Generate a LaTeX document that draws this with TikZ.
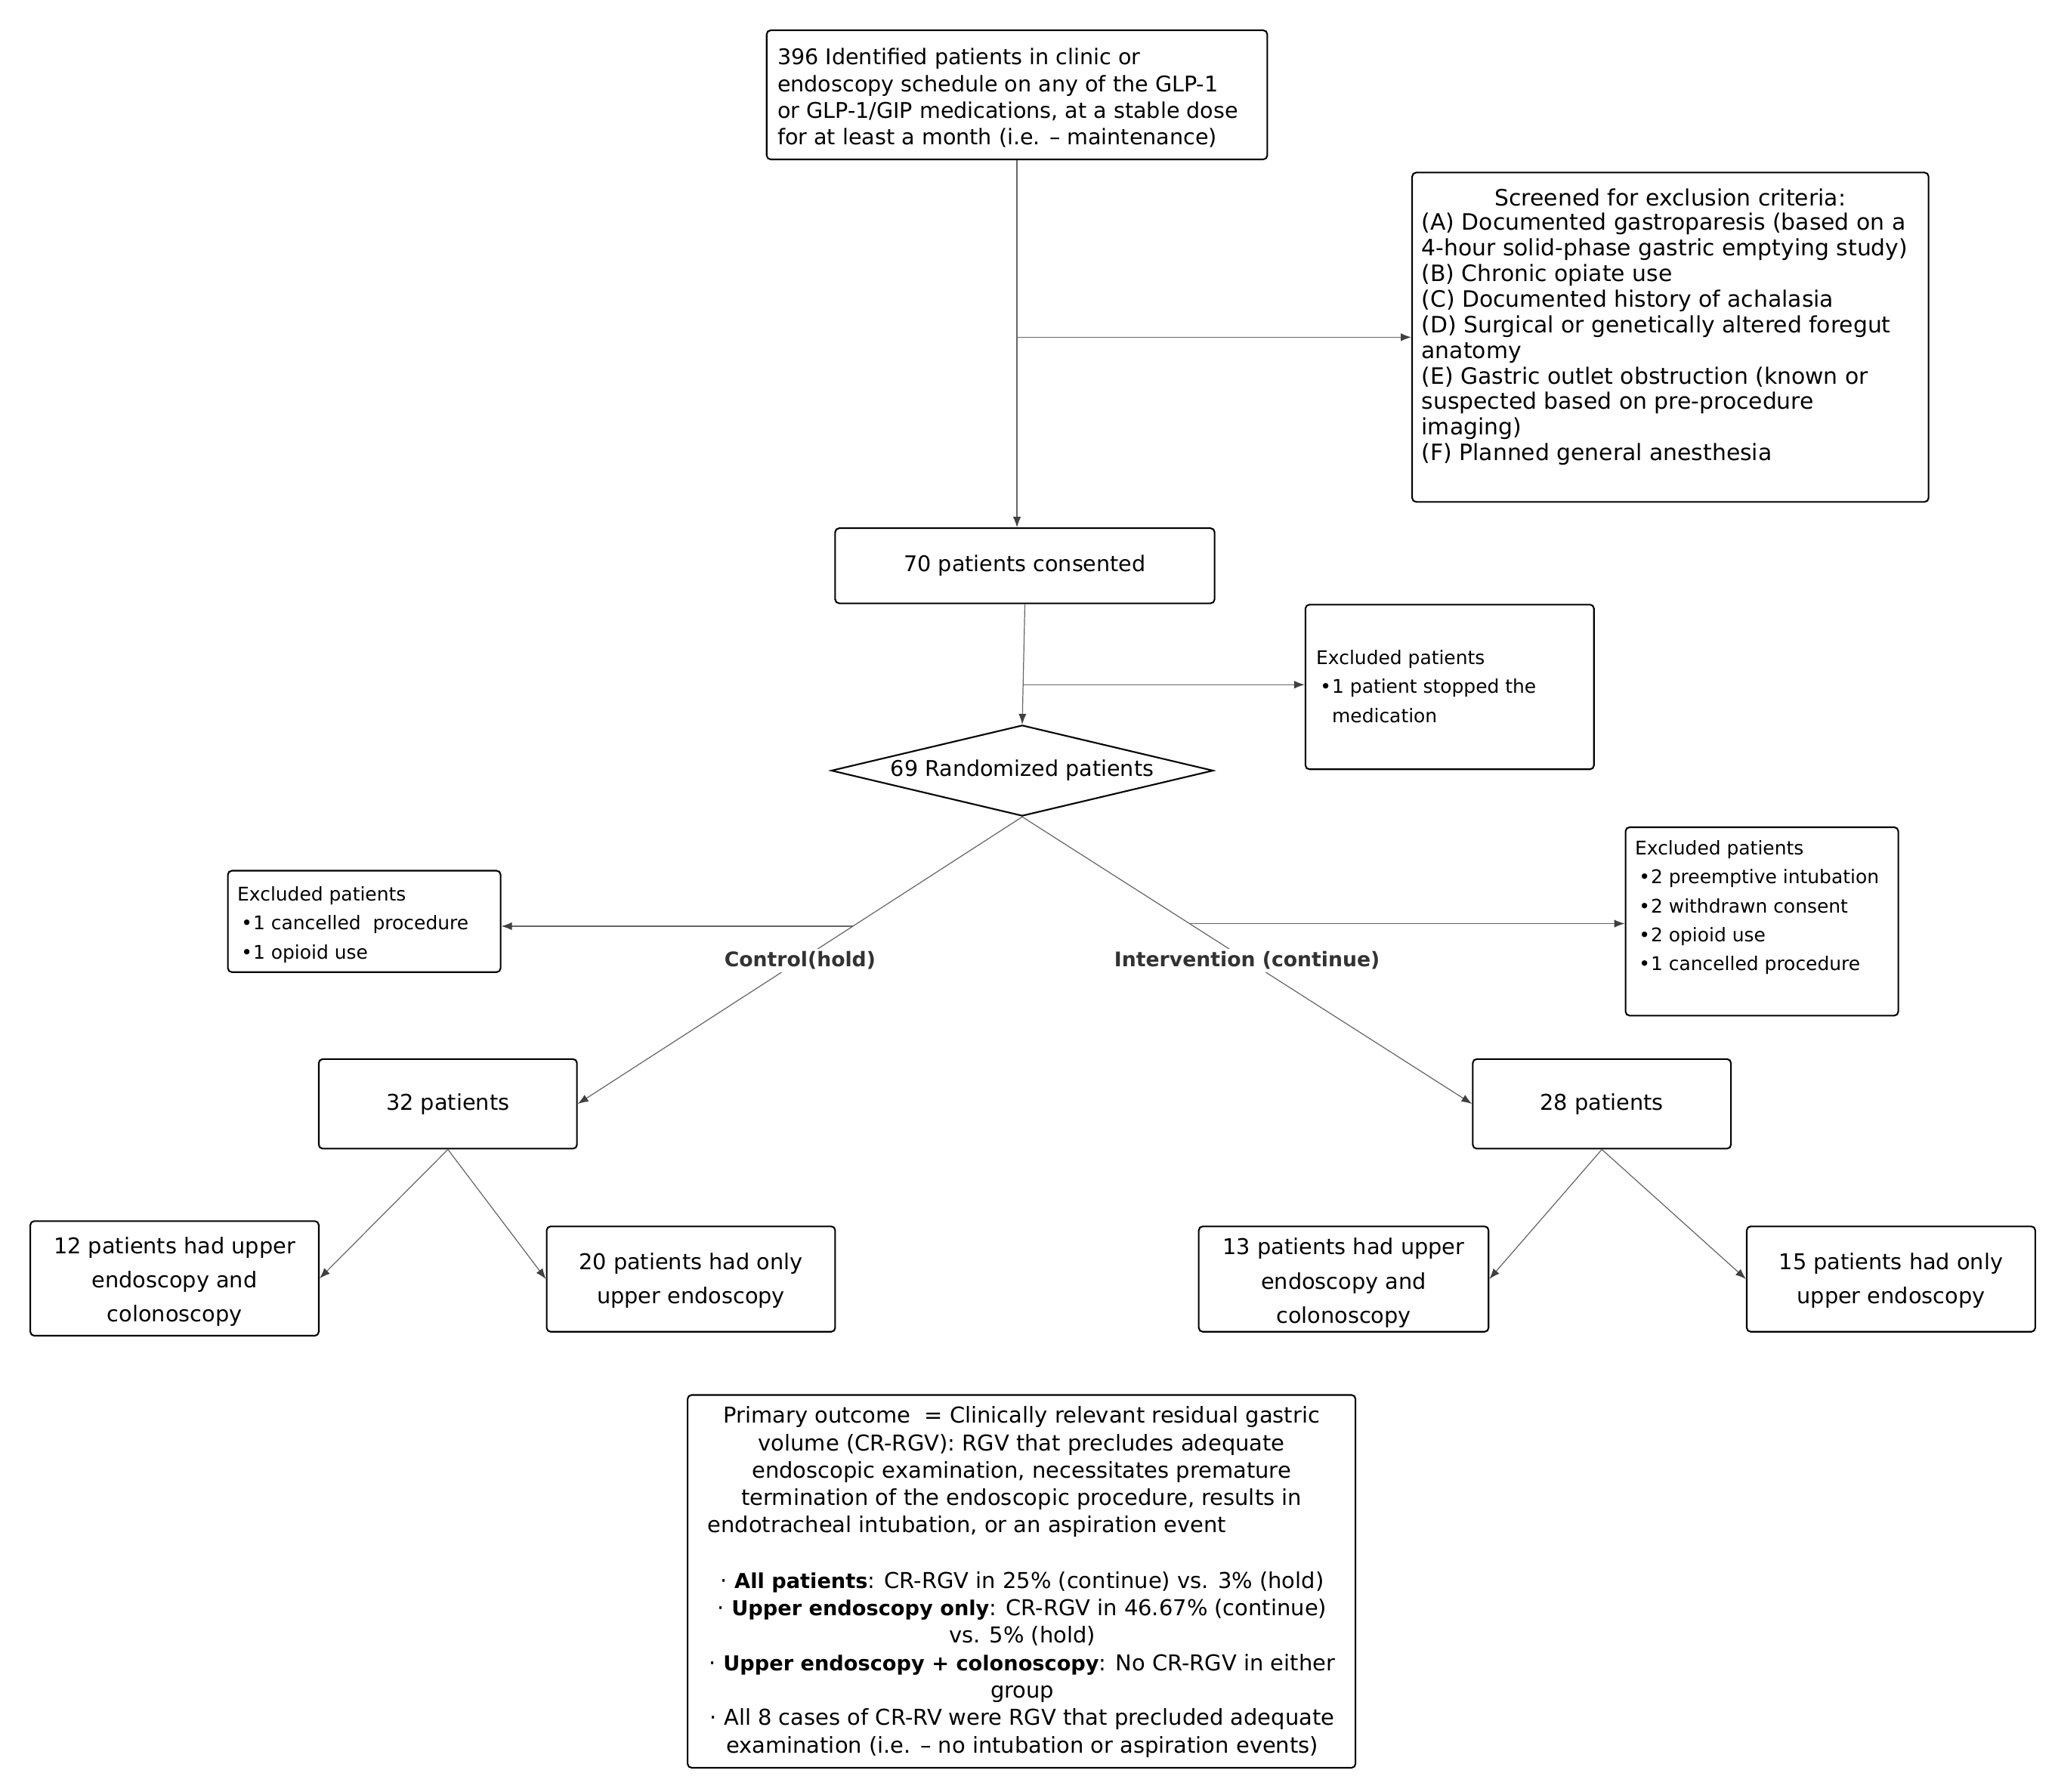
\documentclass[tikz,border=0pt]{standalone}
\usepackage{fontspec}
\setmainfont{DejaVu Sans}
\usetikzlibrary{arrows.meta,shapes.geometric}
\newcommand{\mybul}{\makebox[12pt][l]{\hspace*{3pt}•}}
\newcommand{\mysb}[1]{{\bfseries\fontsize{15.6}{20.83}\selectfont #1}}
\begin{document}
\begin{tikzpicture}[x=1pt,y=-1pt,
  box/.style={draw=black, line width=1.2pt, rounded corners=3pt, inner sep=0pt},
  mtxt/.style={inner sep=0pt, align=left, font=\fontsize{16.4}{20.3}\selectfont},
  ctxt/.style={inner sep=0pt, align=center, font=\fontsize{16.5}{26}\selectfont},
  stxt/.style={inner sep=0pt, align=left, font=\fontsize{14.3}{22}\selectfont},
  otxt/.style={inner sep=0pt, align=center, font=\fontsize{16.6}{20.83}\selectfont},
  lab/.style={fill=white, inner sep=2pt, text=black!80, font=\bfseries\fontsize{15.3}{18}\selectfont},
  conn/.style={draw=black!60, line width=0.7pt},
  arr/.style={conn, -{Latex[length=8pt,width=6pt,color=black!75]}},
]
\fill[white] (0,0) rectangle (1560,1360);
\useasboundingbox (0,0) rectangle (1560,1360);

% top box
\node[box, minimum width=380pt, minimum height=98pt] (top) at (772,72) {};
\node[mtxt, anchor=west] (toptxt) at (590,74.5) {396 Identified patients in clinic or\\endoscopy schedule on any of the GLP-1\\or GLP-1/GIP medications, at a stable dose\\for at least a month (i.e. – maintenance)};

% screening box
\node[box, minimum width=392pt, minimum height=250pt] (screen) at (1268,256) {};
\node[inner sep=0pt, font=\fontsize{17.1}{19.45}\selectfont] (stitle) at (1268,150) {Screened for exclusion criteria:};
\node[inner sep=0pt, align=left, font=\fontsize{17.1}{19.45}\selectfont, anchor=west] (slist) at (1079,257.5) {(A) Documented gastroparesis (based on a\\4-hour solid-phase gastric emptying study)\\(B) Chronic opiate use\\(C) Documented history of achalasia\\(D) Surgical or genetically altered foregut\\anatomy\\(E) Gastric outlet obstruction (known or\\suspected based on pre-procedure\\imaging)\\(F) Planned general anesthesia};

% consent
\node[box, minimum width=288pt, minimum height=57pt] (consent) at (778,429.5) {};
\node[mtxt] (consenttxt) at (consent) {70 patients consented};

% excluded 1
\node[box, minimum width=219pt, minimum height=125pt] (ex1) at (1100.5,521.5) {};
\node[stxt, anchor=west] (ex1txt) at (999,521) {Excluded patients\\\mybul 1 patient stopped the\\\hspace*{12pt}medication};

% diamond
\node[diamond, draw=black, line width=1.2pt, minimum width=290pt, minimum height=69pt, inner sep=0pt] (rand) at (776,585) {};
\node[mtxt] (randtxt) at (rand) {69 Randomized patients};

% excluded left
\node[box, minimum width=207pt, minimum height=77pt] (exL) at (276.5,699.5) {};
\node[stxt, anchor=west] (exLtxt) at (180,702) {Excluded patients\\\mybul 1 cancelled\ \ procedure\\\mybul 1 opioid use};

% excluded right
\node[box, minimum width=207pt, minimum height=143pt] (exR) at (1337.5,699.5) {};
\node[stxt, anchor=west] (exRtxt) at (1241,689) {Excluded patients\\\mybul 2 preemptive intubation\\\mybul 2 withdrawn consent\\\mybul 2 opioid use\\\mybul 1 cancelled procedure};

% arms
\node[box, minimum width=196pt, minimum height=68pt] (b32) at (340,838) {};
\node[ctxt] (b32txt) at (b32) {32 patients};
\node[box, minimum width=196pt, minimum height=68pt] (b28) at (1216,838) {};
\node[ctxt] (b28txt) at (b28) {28 patients};

% leaves
\node[box, minimum width=219pt, minimum height=87pt] (b12) at (132.5,970.5) {};
\node[ctxt] (b12txt) at (132.5,973) {12 patients had upper\\endoscopy and\\colonoscopy};
\node[box, minimum width=219pt, minimum height=80pt] (b20) at (524.5,971) {};
\node[ctxt] (b20txt) at (524.5,972) {20 patients had only\\upper endoscopy};
\node[box, minimum width=220pt, minimum height=80pt] (b13) at (1020,971) {};
\node[ctxt] (b13txt) at (1020,974) {13 patients had upper\\endoscopy and\\colonoscopy};
\node[box, minimum width=219pt, minimum height=80pt] (b15) at (1435.5,971) {};
\node[ctxt] (b15txt) at (1435.5,972) {15 patients had only\\upper endoscopy};

% outcome
\node[box, minimum width=507pt, minimum height=283pt] (out) at (775.5,1200.5) {};
\node[otxt] (o1) at (775.5,1107) {Primary outcome\ \ = Clinically relevant residual gastric\\volume (CR-RGV): RGV that precludes adequate\\endoscopic examination, necessitates premature\\termination of the endoscopic procedure, results in};
\node[otxt, anchor=west] (o2) at (537,1159) {endotracheal intubation, or an aspiration event};
\node[otxt] (o3) at (776,1263.5) {· \mysb{All patients}: CR-RGV in 25\% (continue) vs. 3\% (hold)\\· \mysb{Upper endoscopy only}: CR-RGV in 46.67\% (continue)\\vs. 5\% (hold)\\· \mysb{Upper endoscopy + colonoscopy}: No CR-RGV in either\\group\\· All 8 cases of CR-RV were RGV that precluded adequate\\examination (i.e. – no intubation or aspiration events)};

% connectors
\draw[arr] (top.south) -- (top.south |- consent.north);
\coordinate (br1) at (top.south |- screen.west);
\draw[arr] (br1) -- (screen.west);

\draw[arr] (consent.south) -- coordinate[pos=0.67] (br2) (rand.north);
\draw[arr] (br2) -- (br2 -| ex1.west);

\draw[arr] (rand.south) -- coordinate[pos=0.381] (brL) node[lab, pos=0.5] (lc) {Control(hold)} (b32.east);
\draw[arr] (rand.south) -- coordinate[pos=0.372] (brR) node[lab, pos=0.5] (li) {Intervention (continue)} (b28.west);
\draw[arr] (brL) -- (brL -| exL.east);
\draw[arr] (brR) -- (brR -| exR.west);

\draw[arr] (b32.south) -- (b12.east);
\draw[arr] (b32.south) -- (b20.west);
\draw[arr] (b28.south) -- (b13.east);
\draw[arr] (b28.south) -- (b15.west);
\end{tikzpicture}
\end{document}
